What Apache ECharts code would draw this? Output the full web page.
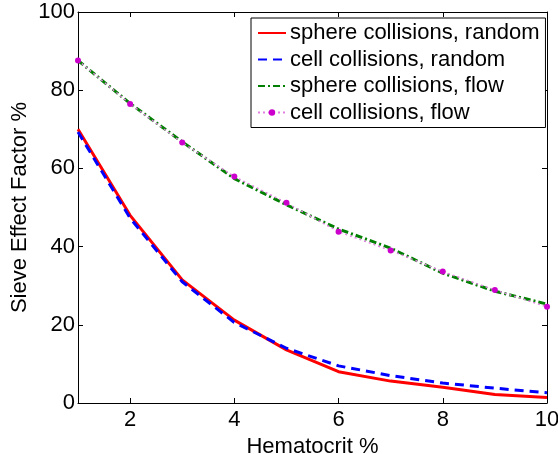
<!DOCTYPE html>
<html>
<head>
<meta charset="utf-8">
<script src="https://cdn.jsdelivr.net/npm/echarts@6/dist/echarts.min.js"></script>
<style>
html,body{margin:0;padding:0;background:#fff;}
#chart{width:558px;height:454px;}
</style>
</head>
<body>
<div id="chart"></div>
<script>
var hematocrit = [1, 2, 3, 4, 5, 6, 7, 8, 9, 10];
var sphereRandom = [70, 48, 31.5, 21.2, 13.6, 8.0, 5.6, 4.0, 2.2, 1.4];
var cellRandom = [69.3, 47.3, 31, 20.6, 14, 9.5, 7.0, 5.1, 3.8, 2.6];
var sphereFlow = [87.6, 76.6, 66.8, 57.4, 50.7, 44.5, 39.6, 33.2, 28.6, 25.3];
var cellFlow = [87.6, 76.5, 66.6, 57.9, 51.2, 43.8, 39.0, 33.6, 28.9, 24.6];
var xTicks = [2, 4, 6, 8, 10];
var seriesNames = ['sphere collisions, random', 'cell collisions, random', 'sphere collisions, flow', 'cell collisions, flow'];

function pairs(ys) { return hematocrit.map(function (x, i) { return [x, ys[i]]; }); }

var FONT = 'Liberation Sans, Arial, Helvetica, sans-serif';
var chart = echarts.init(document.getElementById('chart'), null, { renderer: 'canvas' });
var axisLineStyle = { color: '#000', width: 1 };
chart.setOption({
  animation: false,
  backgroundColor: '#fff',
  grid: { left: 78, right: 11, top: 12, bottom: 51, containLabel: false, outerBoundsMode: 'none' },
  legend: {
    orient: 'vertical',
    left: 251,
    top: 18,
    width: 291,
    padding: [4, 6, 4, 6],
    itemGap: 4.5,
    itemWidth: 28,
    itemHeight: 8,
    backgroundColor: '#fff',
    borderColor: '#000',
    borderWidth: 1,
    borderRadius: 0,
    textStyle: { fontFamily: FONT, fontSize: 22, color: '#000', padding: [0, 0, 0, -1] },
    data: [
      { name: seriesNames[0], itemStyle: { opacity: 0 } },
      { name: seriesNames[1], itemStyle: { opacity: 0 } },
      { name: seriesNames[2], itemStyle: { opacity: 0 } },
      { name: seriesNames[3] }
    ]
  },
  xAxis: [{
    type: 'value', min: 1, max: 10,
    name: 'Hematocrit %', nameLocation: 'middle', nameGap: 25,
    nameTextStyle: { fontFamily: FONT, fontSize: 22, color: '#000' },
    axisLine: { show: true, onZero: false, lineStyle: axisLineStyle },
    axisTick: { show: true, inside: true, length: 5, lineStyle: axisLineStyle, customValues: xTicks },
    axisLabel: { show: true, fontFamily: FONT, fontSize: 22, color: '#000', margin: 6, customValues: xTicks, showMinLabel: true, showMaxLabel: true },
    splitLine: { show: false }
  }, {
    type: 'value', min: 1, max: 10, position: 'top',
    axisLine: { show: true, onZero: false, lineStyle: axisLineStyle },
    axisTick: { show: true, inside: true, length: 5, lineStyle: axisLineStyle, customValues: xTicks },
    axisLabel: { show: false },
    splitLine: { show: false }
  }],
  yAxis: [{
    type: 'value', min: 0, max: 100, interval: 20,
    name: 'Sieve Effect Factor %', nameLocation: 'middle', nameGap: 47, nameMoveOverlap: false,
    nameTextStyle: { fontFamily: FONT, fontSize: 22, color: '#000' },
    axisLine: { show: true, onZero: false, lineStyle: axisLineStyle },
    axisTick: { show: true, inside: true, length: 5, lineStyle: axisLineStyle },
    axisLabel: { fontFamily: FONT, fontSize: 22, color: '#000', margin: 3 },
    splitLine: { show: false }
  }, {
    type: 'value', min: 0, max: 100, interval: 20, position: 'right',
    axisLine: { show: true, onZero: false, lineStyle: axisLineStyle },
    axisTick: { show: true, inside: true, length: 5, lineStyle: axisLineStyle },
    axisLabel: { show: false },
    splitLine: { show: false }
  }],
  series: [{
    name: seriesNames[0], type: 'line', data: pairs(sphereRandom),
    symbol: 'none', color: '#ff0000',
    lineStyle: { color: '#ff0000', width: 3, type: 'solid' }
  }, {
    name: seriesNames[1], type: 'line', data: pairs(cellRandom),
    symbol: 'none', color: '#0000ff',
    lineStyle: { color: '#0000ff', width: 3, type: [9, 6] }
  }, {
    name: seriesNames[2], type: 'line', data: pairs(sphereFlow),
    symbol: 'none', color: '#007f00',
    lineStyle: { color: '#007f00', width: 3, type: [7, 3, 2, 3] }
  }, {
    name: seriesNames[3], type: 'line', data: pairs(cellFlow),
    symbol: 'circle', symbolSize: 6, color: '#cc00cc',
    itemStyle: { color: '#cc00cc', borderWidth: 0 },
    lineStyle: { color: '#e080e0', width: 1.5, type: [2, 3] }
  }]
});
</script>
</body>
</html>
